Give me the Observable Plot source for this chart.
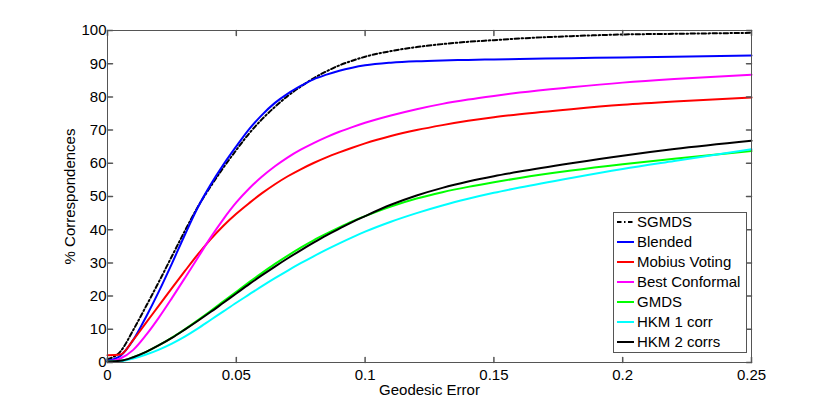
<!DOCTYPE html>
<html><head><meta charset="utf-8">
<script src="https://cdn.jsdelivr.net/npm/d3@7"></script>
<script src="https://cdn.jsdelivr.net/npm/@observablehq/plot@0.6"></script>
<style>
html,body{margin:0;padding:0;background:#fff;}
#chart svg{display:block;}
</style></head><body><div id="chart"></div>
<script>
// Geodesic error thresholds (x)
const xs = [0, 0.005, 0.01, 0.015, 0.02, 0.025, 0.03, 0.035, 0.04, 0.045, 0.05, 0.055, 0.06, 0.065, 0.07, 0.075, 0.08, 0.085, 0.09, 0.095, 0.1, 0.11, 0.12, 0.13, 0.14, 0.15, 0.16, 0.18, 0.2, 0.22, 0.25];
// % correspondences per method
const sgmds         = [1.0, 3.3, 9.8, 17.0, 24.4, 32.0, 39.6, 46.8, 53.0, 58.7, 64.0, 69.0, 73.3, 77.0, 80.3, 83.1, 85.6, 87.7, 89.5, 90.9, 92.1, 93.8, 95.0, 95.9, 96.6, 97.1, 97.6, 98.3, 98.8, 99.0, 99.3];
const blended       = [0.5, 2.0, 6.8, 13.8, 21.5, 29.8, 38.4, 46.6, 53.5, 59.6, 65.1, 70.3, 74.6, 78.2, 81.0, 83.3, 85.3, 86.7, 87.9, 88.8, 89.5, 90.3, 90.75, 91.0, 91.15, 91.3, 91.42, 91.65, 91.9, 92.1, 92.5];
const mobiusVoting  = [2.2, 2.4, 6.8, 12.0, 17.2, 22.4, 27.5, 32.5, 37.1, 41.2, 44.8, 48.0, 51.0, 53.7, 56.1, 58.2, 60.1, 61.8, 63.3, 64.7, 66.0, 68.2, 70.0, 71.5, 72.8, 73.9, 74.8, 76.3, 77.6, 78.6, 79.8];
const bestConformal = [0.3, 1.2, 3.8, 8.3, 13.6, 19.4, 25.4, 31.5, 37.6, 43.2, 48.2, 52.4, 56.0, 59.1, 61.8, 64.1, 66.1, 67.9, 69.5, 70.9, 72.2, 74.4, 76.3, 77.9, 79.2, 80.3, 81.3, 82.9, 84.3, 85.4, 86.7];
const gmds          = [0.3, 0.5, 1.6, 3.2, 5.2, 7.5, 10.0, 12.7, 15.5, 18.4, 21.3, 24.2, 27.0, 29.7, 32.2, 34.6, 36.8, 38.8, 40.7, 42.5, 44.1, 47.0, 49.4, 51.3, 52.9, 54.3, 55.6, 57.8, 59.7, 61.4, 63.7];
const hkm1corr      = [0.3, 0.4, 1.2, 2.4, 3.9, 5.7, 7.8, 10.2, 12.8, 15.4, 18.0, 20.5, 23.0, 25.4, 27.7, 29.9, 32.0, 34.0, 35.9, 37.7, 39.4, 42.4, 45.0, 47.3, 49.3, 51.1, 52.7, 55.6, 58.3, 60.7, 64.2];
const hkm2corrs     = [0.3, 0.5, 1.6, 3.2, 5.2, 7.4, 9.9, 12.5, 15.2, 18.0, 20.8, 23.6, 26.3, 28.9, 31.4, 33.8, 36.1, 38.3, 40.3, 42.3, 44.1, 47.5, 50.3, 52.6, 54.5, 56.1, 57.5, 60.0, 62.3, 64.3, 66.8];

const seriesNames  = ["SGMDS", "Blended", "Mobius Voting", "Best Conformal", "GMDS", "HKM 1 corr", "HKM 2 corrs"];
const seriesColors = ["#000000", "#0000ff", "#ff0000", "#ff00ff", "#00ff00", "#00ffff", "#000000"];
const seriesValues = [sgmds, blended, mobiusVoting, bestConformal, gmds, hkm1corr, hkm2corrs];

const xTicks = [0, 0.05, 0.1, 0.15, 0.2, 0.25];
const xTickLabels = ["0", "0.05", "0.1", "0.15", "0.2", "0.25"];
const yTicks = [0, 10, 20, 30, 40, 50, 60, 70, 80, 90, 100];
const yTickLabels = ["0", "10", "20", "30", "40", "50", "60", "70", "80", "90", "100"];

const dashDot = "4.5,2.5,1.5,2.5";
const axisColor = "#555";
const font = "'Liberation Sans', Arial, Helvetica, sans-serif";

const rows = seriesNames.flatMap((name, i) => xs.map((x, j) => ({series: name, x, y: seriesValues[i][j]})));

const tickShape = {draw(context, l) { context.moveTo(0, 0); context.lineTo(0, -l); }};

const lineMarks = seriesNames.map((name, i) =>
  Plot.line(rows.filter(r => r.series === name), {
    x: "x", y: "y", stroke: seriesColors[i], strokeWidth: 2,
    strokeDasharray: i === 0 ? dashDot : null, curve: "monotone-x"
  })
);

const chart = Plot.plot({
  width: 830, height: 409,
  marginLeft: 107, marginRight: 79, marginTop: 30, marginBottom: 47,
  style: {fontFamily: font, fontSize: "15px", background: "#fff", color: "#000"},
  x: {domain: [0, 0.25]},
  y: {domain: [0, 100]},
  marks: [
    ...lineMarks,
    Plot.frame({stroke: axisColor, strokeWidth: 1}),
    // inward ticks on all four sides
    Plot.vector(xTicks, {x: d => d, frameAnchor: "bottom", length: 5, rotate: 0, anchor: "start", shape: tickShape, stroke: axisColor}),
    Plot.vector(xTicks, {x: d => d, frameAnchor: "top", length: 5, rotate: 180, anchor: "start", shape: tickShape, stroke: axisColor}),
    Plot.vector(yTicks, {y: d => d, frameAnchor: "left", length: 5, rotate: 90, anchor: "start", shape: tickShape, stroke: axisColor}),
    Plot.vector(yTicks, {y: d => d, frameAnchor: "right", length: 5, rotate: -90, anchor: "start", shape: tickShape, stroke: axisColor}),
    Plot.axisX(xTicks, {anchor: "bottom", tickSize: 0, tickPadding: 7, tickFormat: d => xTickLabels[xTicks.indexOf(d)],
      label: "Geodesic Error", labelAnchor: "center", labelArrow: "none", labelOffset: 32, fontSize: 15}),
    Plot.axisY(yTicks, {anchor: "left", tickSize: 0, tickPadding: 1, tickFormat: d => yTickLabels[yTicks.indexOf(d)],
      label: "% Correspondences", labelAnchor: "center", labelArrow: "none", labelOffset: 43, fontSize: 15})
  ]
});

document.getElementById("chart").appendChild(chart);

// Legend box (MATLAB style, inside axes, lower right)
const svg = d3.select(chart);
const lg = svg.append("g").attr("font-family", font).attr("font-size", 15).attr("text-anchor", "start");
lg.append("rect").attr("x", 613.5).attr("y", 212.5).attr("width", 133).attr("height", 140)
  .attr("fill", "#fff").attr("stroke", axisColor).attr("stroke-width", 1);
seriesNames.forEach((name, i) => {
  const cy = 222 + 20 * i;
  lg.append("line").attr("x1", 617).attr("x2", 634).attr("y1", cy).attr("y2", cy)
    .attr("stroke", seriesColors[i]).attr("stroke-width", 2)
    .attr("stroke-dasharray", i === 0 ? dashDot : null);
  lg.append("text").attr("x", 637).attr("y", cy).attr("dy", "0.36em").attr("text-anchor", "start").attr("fill", "#000").text(name);
});
</script>
</body></html>
